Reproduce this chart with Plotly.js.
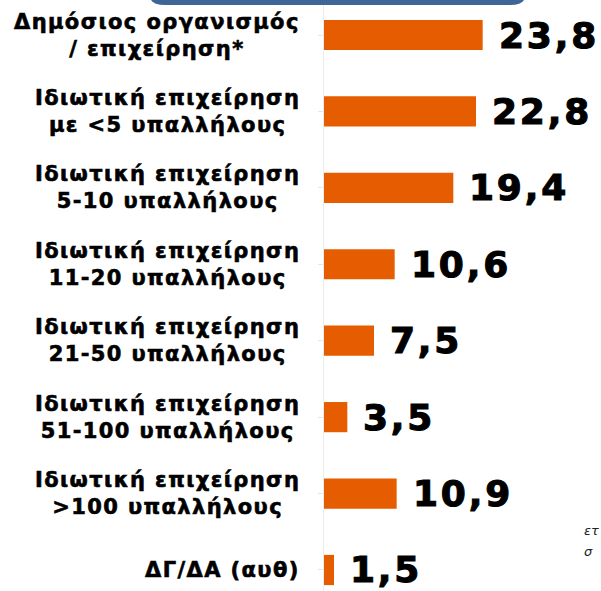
<!DOCTYPE html>
<html><head><meta charset="utf-8">
<script src="https://cdn.plot.ly/plotly-3.0.1.min.js"></script>
<style>
html,body{margin:0;padding:0;background:#fff}
text.annotation-text[style*="font-size: 21px"]{letter-spacing:1.4px;stroke:#000;stroke-width:0.6px}
text.annotation-text[style*="font-size: 36px"]{letter-spacing:2.8px;stroke:#000;stroke-width:1.1px}
</style>
</head><body>
<div id="chart" style="width:601px;height:591px"></div>
<script>
const categories = [
  "Δημόσιος οργανισμός<br>/ επιχείρηση*",
  "Ιδιωτική επιχείρηση<br>με <5 υπαλλήλους",
  "Ιδιωτική επιχείρηση<br>5-10 υπαλλήλους",
  "Ιδιωτική επιχείρηση<br>11-20 υπαλλήλους",
  "Ιδιωτική επιχείρηση<br>21-50 υπαλλήλους",
  "Ιδιωτική επιχείρηση<br>51-100 υπαλλήλους",
  "Ιδιωτική επιχείρηση<br>>100 υπαλλήλους",
  "ΔΓ/ΔΑ (αυθ)"
];
const values = [23.8, 22.8, 19.4, 10.6, 7.5, 3.5, 10.9, 1.5];
const sideNotes = ["ετ", "σ"];

const idx = categories.map((c, i) => i);
const barColor = "#E65C00";
const font = "DejaVu Sans, Verdana, sans-serif";

const trace = {
  type: "bar", orientation: "h",
  x: values, y: idx,
  width: 0.395,
  marker: {color: barColor, line: {width: 0}},
  hoverinfo: "skip"
};

const bold = s => s.split("<br>").map(l => "<b>" + l + "</b>").join("<br>");

const annotations = [];
categories.forEach((c, i) => {
  annotations.push({
    xref: "paper", yref: "y", x: 0, y: i, xanchor: "right", yanchor: "middle",
    xshift: -22, text: bold(c), showarrow: false, align: "center",
    font: {family: font, size: 21, color: "#000"}
  });
  annotations.push({
    xref: "x", yref: "y", x: values[i], y: i, xanchor: "left", yanchor: "middle",
    xshift: 14, yshift: 0, text: bold(String(values[i]).replace(".", ",")), showarrow: false,
    font: {family: font, size: 36, color: "#000"}
  });
});

sideNotes.forEach((t, k) => {
  annotations.push({
    xref: "paper", yref: "paper", x: 1, y: 1 - (530 + k * 21) / 591,
    xanchor: "right", yanchor: "middle", xshift: k === 0 ? 0 : -6,
    text: "<i>" + t + "</i>", showarrow: false,
    font: {family: font, size: 13, color: "#222"}
  });
});

const W = 277;
const px = p => (p - 324) / W;
const py = p => 1 - p / 591;

const layout = {
  width: 601, height: 591,
  margin: {l: 324, r: 0, t: 0, b: 0, pad: 0},
  paper_bgcolor: "#fff", plot_bgcolor: "#fff",
  showlegend: false,
  xaxis: {range: [0, 41.55], visible: false, fixedrange: true},
  yaxis: {
    range: [7.275, -0.458], tickmode: "array", tickvals: idx, ticktext: idx.map(() => ""),
    showgrid: false, zeroline: false, showline: true, linecolor: "#ececec", linewidth: 1,
    ticks: "outside", tickson: "boundaries", ticklen: 5, tickcolor: "#e4e4e4",
    fixedrange: true
  },
  shapes: [{
    type: "path", xref: "paper", yref: "paper",
    path: `M ${px(150)} ${py(-5)} L ${px(150)} ${py(-4)} Q ${px(150)} ${py(5)} ${px(165)} ${py(5)} L ${px(510)} ${py(5)} Q ${px(525)} ${py(5)} ${px(525)} ${py(-4)} L ${px(525)} ${py(-5)} Z`,
    fillcolor: "#3F6598", line: {width: 0}, layer: "above"
  }],
  annotations: annotations
};

Plotly.newPlot("chart", [trace], layout, {displayModeBar: false, staticPlot: true});
</script>
</body></html>
